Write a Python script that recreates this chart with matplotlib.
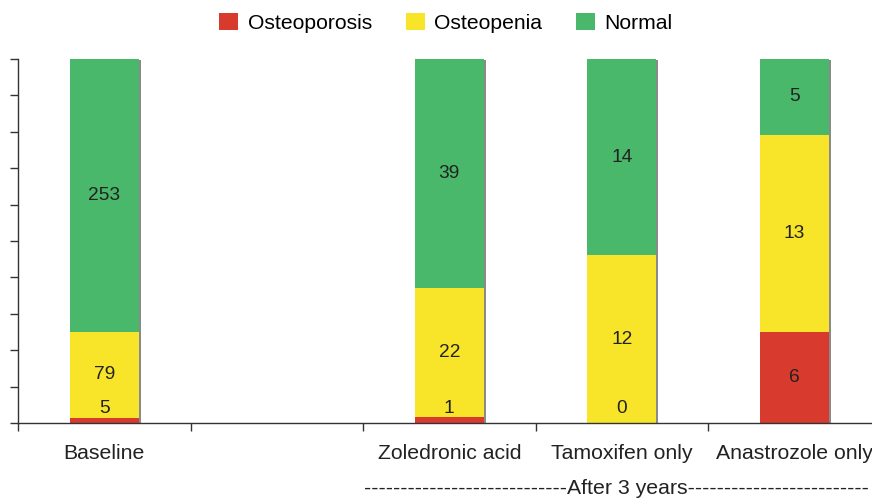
import matplotlib.pyplot as plt
import numpy as np
from matplotlib.patches import Patch

plt.rcParams['font.family'] = ['Liberation Sans', 'DejaVu Sans']

categories = ["Baseline", "", "Zoledronic acid", "Tamoxifen only", "Anastrozole only"]
osteoporosis = [5, None, 1, 0, 6]
osteopenia = [79, None, 22, 12, 13]
normal = [253, None, 39, 14, 5]

series_names = ["Osteoporosis", "Osteopenia", "Normal"]
colors = ["#d83a2e", "#f8e52a", "#49b86b"]

fig = plt.figure(figsize=(8.72, 5.0), dpi=100)
ax = fig.add_axes([18 / 872, 77 / 500, 862.5 / 872, 364 / 500])

width = 0.4
x = np.arange(len(categories))
for i in x:
    if osteoporosis[i] is None:
        continue
    counts = [osteoporosis[i], osteopenia[i], normal[i]]
    total = sum(counts)
    pcts = [100 * c / total for c in counts]
    # grey drop shadow on the right
    ax.bar(i + 0.012, 100, width=width, bottom=-0.3, color="#8a8a8a", zorder=1)
    bottom = 0
    for p, c, col in zip(pcts, counts, colors):
        ax.bar(i, p, width=width, bottom=bottom, color=col, zorder=2)
        if p > 8:
            ypos = bottom + p / 2
        else:
            ypos = 4.0
        ax.text(i, ypos, str(c), ha="center", va="center", fontsize=13.8,
                color="#222222", zorder=3)
        bottom += p

ax.set_xlim(-0.5, 4.5)
ax.set_ylim(0, 100)
ax.set_yticks(np.arange(0, 101, 10))
ax.set_yticklabels([])
ax.set_xticks(np.arange(-0.5, 4.6, 1))
ax.set_xticklabels([])
ax.set_xticks(x, minor=True)
ax.set_xticklabels(categories, minor=True, fontsize=15.3, color="#222222")
ax.tick_params(axis="x", which="minor", length=0, pad=15)
ax.tick_params(axis="both", which="major", length=6, width=1, color="#333333")
for s in ["top", "right"]:
    ax.spines[s].set_visible(False)
for s in ["left", "bottom"]:
    ax.spines[s].set_color("#333333")
    ax.spines[s].set_linewidth(1)

fig.text(364 / 872, 11 / 500, "-" * 28 + "After 3 years" + "-" * 25,
         ha="left", va="center", fontsize=15.3, color="#222222")

handles = [Patch(facecolor=c, label=n) for c, n in zip(colors, series_names)]
fig.legend(handles=handles, loc="center", bbox_to_anchor=(446 / 872, 1 - 23 / 500),
           ncol=3, frameon=False, fontsize=15.2, handlelength=0.9, handleheight=0.9,
           handletextpad=0.45, columnspacing=1.6)

fig.savefig("out.png", dpi=100)
